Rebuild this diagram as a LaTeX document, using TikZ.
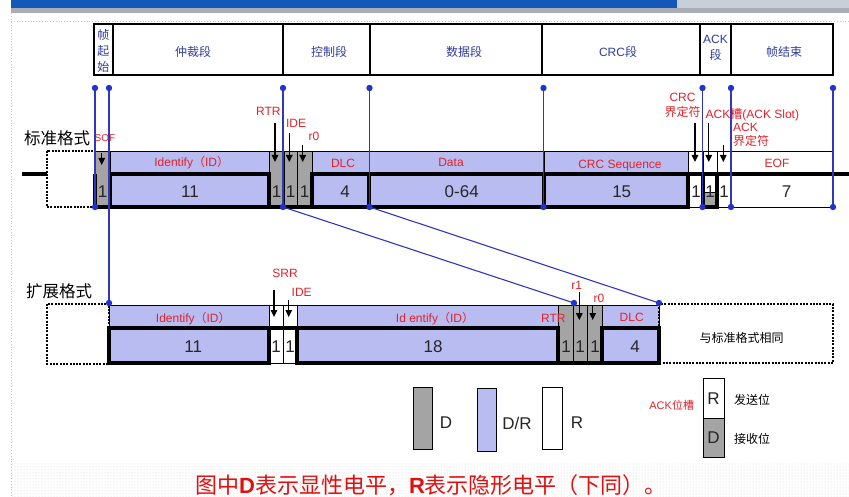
\documentclass[tikz,border=0pt]{standalone}
\usepackage{fontspec}
\setmainfont{Liberation Sans}
\newfontfamily\cjk{Noto Sans CJK SC}
\usetikzlibrary{arrows.meta,patterns}
\definecolor{lblue}{HTML}{B8BCF0}
\definecolor{dgray}{HTML}{A4A4A4}
\definecolor{lineblue}{HTML}{3038B8}
\definecolor{dotblue}{HTML}{2233CC}
\definecolor{hdrblue}{HTML}{2F3C9C}
\definecolor{lred}{HTML}{E4222A}
\definecolor{capred}{HTML}{E01010}
\definecolor{banner}{HTML}{1457B8}
\definecolor{photo}{HTML}{C9CFD8}
\definecolor{strip}{HTML}{A9AEB5}
\tikzset{
 cellline/.style={draw=black, line width=0.8pt},
 sig/.style={draw=black, line width=3.1pt},
 guide/.style={draw=lineblue, line width=1.1pt},
 redlbl/.style={text=lred, font=\fontsize{12}{14}\selectfont, inner sep=0pt},
 numlbl/.style={font=\fontsize{17}{18}\selectfont, inner sep=0pt, text=black!85},
 hdr/.style={text=hdrblue, font=\cjk\fontsize{12}{16}\selectfont, inner sep=0pt, align=center},
 bitarrow/.style={-{Triangle[length=7pt,width=6.5pt]}, line width=1.3pt},
 dashbox/.style={draw=black, line width=2pt, dash pattern=on 2pt off 1.3pt},
 rowtitle/.style={font=\cjk\fontsize{16.5}{18}\selectfont, inner sep=0pt},
 legtxt/.style={font=\fontsize{17}{18}\selectfont, inner sep=0pt, text=black!85},
 zhtxt/.style={font=\cjk\fontsize{12}{14}\selectfont, inner sep=0pt},
}
\newcommand{\lat}[1]{{\normalfont\fontsize{12}{16}\selectfont #1}}
\begin{document}
\begin{tikzpicture}[x=1pt,y=-1pt]
\useasboundingbox (0,0) rectangle (849,497);
\fill[white] (0,0) rectangle (849,497);
% slide chrome
\fill[banner] (11,0) rectangle (677,8.5);
\fill[photo] (677,0) rectangle (849,8.5);
\fill[strip] (11,8.5) rectangle (849,13.5);
\draw[gray!45, dotted, line width=0.8pt] (11,21) -- (849,21);
\draw[gray!45, dotted, line width=0.8pt] (11,13.5) -- (11,497);
\fill[pattern=dots, pattern color=gray!35] (12,462) rectangle (849,497);

% ---------- header ----------
\draw[line width=2pt] (94,24) rectangle (833,75);
\foreach \x in {112.6,282.5,369.5,541.5,700,731} \draw[line width=2pt] (\x,24) -- (\x,75);
\node[hdr] (hSOF) at (103.3,51) {帧\\起\\始};
\node[hdr] (hArb) at (193,52) {仲裁段};
\node[hdr] (hCtl) at (329,52) {控制段};
\node[hdr] (hData) at (464,52) {数据段};
\node[hdr] (hCRC) at (618,52) {\lat{CRC}段};
\node[hdr] (hACK) at (715.5,48) {\lat{ACK}\\段};
\node[hdr] (hEOF) at (784,52) {帧结束};

% ---------- standard format ----------
\node[rowtitle] (tStd) at (57,138) {标准格式};
\fill[dgray] (95,151) rectangle (110,207);
\fill[lblue] (110,151) rectangle (269,207);
\fill[dgray] (269,151) rectangle (312,207);
\fill[lblue] (312,151) rectangle (688,207);
\fill[dgray] (703,192) rectangle (717,207);
% thin cell lines
\draw[cellline] (95,151) -- (833,151);
\foreach \x in {95,110,269,284,297,312,369,544,688,703,717,731,833} \draw[cellline] (\x,151) -- (\x,174);
\foreach \x in {284,297,688,731} \draw[cellline] (\x,174) -- (\x,207);
\draw[cellline] (688,207) -- (703,207);
\draw[cellline] (717,207) -- (833,207);
\draw[cellline] (703,192) -- (717,192);
% dashed idle box
\draw[dashbox] (47,151) rectangle (95,207);
% signal (thick)
\draw[sig] (22,174) -- (47,174);
\draw[sig] (95,174) -- (95,207) -- (110,207);
\draw[sig] (110,174) rectangle (269,207);
\draw[sig] (269,207) -- (312,207);
\draw[sig] (312,174) rectangle (369,207);
\draw[sig] (369,174) rectangle (544,207);
\draw[sig] (544,174) rectangle (688,207);
\draw[sig] (688,174) -- (703,174);
\draw[sig] (703,174) rectangle (717,207);
\draw[sig] (717,174) -- (849,174);
% field labels
\node[redlbl] (lID) at (191.7,163) {Identify{\cjk （}ID{\cjk ）}};
\node[redlbl] (lDLC) at (343,163) {DLC};
\node[redlbl] (lData) at (451,162) {Data};
\node[redlbl] (lCRC) at (620,166) {CRC Sequence};
\node[redlbl] (lEOF) at (777,163) {EOF};
% numbers
\node[numlbl] (n1) at (102.5,191.5) {1};
\node[numlbl] (n2) at (190,191.5) {11};
\node[numlbl] (n3) at (276.5,191.5) {1};
\node[numlbl] (n4) at (290.5,191.5) {1};
\node[numlbl] (n5) at (304.5,191.5) {1};
\node[numlbl] (n6) at (345,191.5) {4};
\node[numlbl] (n7) at (461.7,191.5) {0-64};
\node[numlbl] (n8) at (621.7,191.5) {15};
\node[numlbl] (n9) at (696,191.5) {1};
\node[numlbl] (n10) at (710,191.5) {1};
\node[numlbl] (n11) at (724,191.5) {1};
\node[numlbl] (n12) at (786.7,191.5) {7};
% bit arrows and their labels
\node[redlbl, font=\fontsize{10}{12}\selectfont] (aSOF) at (105,138) {SOF};
\node[redlbl] (aRTR) at (268.3,111.7) {RTR};
\node[redlbl] (aIDE) at (296,123.3) {IDE};
\node[redlbl] (ar0) at (314,136.7) {r0};
\node[redlbl, align=center, font=\cjk\fontsize{12}{15}\selectfont] (aCRCd) at (682.5,105.5) {\lat{CRC}\\界定符};
\node[redlbl, anchor=west] (aACK) at (705.5,115) {ACK{\cjk 槽}(ACK Slot)};
\node[redlbl, align=left, anchor=west, font=\cjk\fontsize{12}{13.5}\selectfont] (aACKd) at (733,135) {\lat{ACK}\\界定符};
\coordinate (s1) at (101.7,153); \coordinate (e1) at (101.7,165);
\coordinate (s2) at (275,123);   \coordinate (e2) at (275,162);
\coordinate (s3) at (289.3,133); \coordinate (e3) at (289.3,162);
\coordinate (s4) at (302.7,145); \coordinate (e4) at (302.7,162);
\coordinate (s5) at (695,123);   \coordinate (e5) at (695,162);
\coordinate (s6) at (708.7,123); \coordinate (e6) at (708.7,162);
\coordinate (s7) at (723.3,145); \coordinate (e7) at (723.3,162);
\foreach \i in {1,...,7} \draw[bitarrow] (s\i) -- (e\i);

% ---------- extended format ----------
\node[rowtitle] (tExt) at (59,291.7) {扩展格式};
\fill[lblue] (109,305) rectangle (269,363);
\fill[lblue] (297,305) rectangle (558,363);
\fill[dgray] (558,305) rectangle (602,363);
\fill[lblue] (602,305) rectangle (659,363);
\draw[cellline] (109,305) -- (659,305);
\foreach \x in {109,269,283,297,558,573,587,602,659} \draw[cellline] (\x,305) -- (\x,328);
\foreach \x in {283,573,587} \draw[cellline] (\x,328) -- (\x,363);
\draw[cellline] (269,363) -- (297,363);
\draw[dashbox] (47,304) rectangle (109,364);
\draw[dashbox] (659,304) rectangle (833,363);
\draw[sig] (109,328) rectangle (269,363);
\draw[sig] (269,328) -- (297,328);
\draw[sig] (297,328) rectangle (558,363);
\draw[sig] (558,363) -- (602,363);
\draw[sig] (602,328) rectangle (659,363);
\node[redlbl] (xID) at (193.3,318.3) {Identify{\cjk （}ID{\cjk ）}};
\node[redlbl] (xID2) at (435,318.3) {Id entify{\cjk （}ID{\cjk ）}};
\node[redlbl] (xRTR) at (553.3,318.3) {RTR};
\node[redlbl] (xDLC) at (631.7,317.3) {DLC};
\node[numlbl] (m1) at (193.3,346.7) {11};
\node[numlbl] (m2) at (276,346.7) {1};
\node[numlbl] (m3) at (290,346.7) {1};
\node[numlbl] (m4) at (433,346.7) {18};
\node[numlbl] (m5) at (566,346.7) {1};
\node[numlbl] (m6) at (580,346.7) {1};
\node[numlbl] (m7) at (595,346.7) {1};
\node[numlbl] (m8) at (635,346.7) {4};
\node[zhtxt] (same) at (741.7,338) {与标准格式相同};
\node[redlbl] (bSRR) at (285,273.3) {SRR};
\node[redlbl] (bIDE) at (301.7,292.7) {IDE};
\node[redlbl] (br1) at (576.7,285) {r1};
\node[redlbl] (br0) at (599,298.3) {r0};
\coordinate (p1) at (274,290);    \coordinate (q1) at (274,317);
\coordinate (p2) at (288.7,300);  \coordinate (q2) at (288.7,317);
\coordinate (p3) at (579.3,292);  \coordinate (q3) at (579.3,320);
\coordinate (p4) at (592.7,305);  \coordinate (q4) at (592.7,320);
\foreach \i in {1,...,4} \draw[bitarrow] (p\i) -- (q\i);

% ---------- guide lines and dots ----------
\coordinate (g1) at (95,88);   \coordinate (h1) at (95,207);
\coordinate (g2) at (109,88);  \coordinate (h2) at (109,303);
\coordinate (g3) at (283,88);  \coordinate (h3) at (283,207);
\coordinate (g4) at (369.5,88);\coordinate (h4) at (369.5,207);
\coordinate (g5) at (543.5,88);\coordinate (h5) at (543.5,207);
\coordinate (g6) at (702.5,88);\coordinate (h6) at (702.5,207);
\coordinate (g7) at (731,88);  \coordinate (h7) at (731,207);
\coordinate (g8) at (833,88);  \coordinate (h8) at (833,207);
\coordinate (x1) at (574,303);
\coordinate (x2) at (659,303);
\foreach \i in {1,...,8} {
  \draw[guide] (g\i) -- (h\i);
  \fill[dotblue] (g\i) circle (3.2pt);
}
\draw[guide] (h3) -- (x1);
\draw[guide] (h4) -- (x2);
\foreach \c in {h1,h2,h3,h4,h5,h6,h7,h8,x1,x2} \fill[dotblue] (\c) circle (3.2pt);

% ---------- legend ----------
\draw[cellline, fill=dgray] (413,387) rectangle (432,449);
\node[legtxt] (kD) at (446,423) {D};
\draw[cellline, fill=lblue] (477,388) rectangle (496,451);
\node[legtxt] (kDR) at (517,423) {D/R};
\draw[cellline, fill=white] (542,387) rectangle (562,449);
\node[legtxt] (kR) at (577,423) {R};
\node[redlbl, font=\fontsize{11}{13}\selectfont] (kACK) at (671.7,405) {ACK{\cjk 位槽}};
\draw[cellline, fill=white] (703,378) rectangle (724,418);
\draw[cellline, fill=dgray] (703,418) rectangle (724,457);
\node[legtxt] (kR2) at (713.5,399) {R};
\node[legtxt] (kD2) at (713.5,438) {D};
\node[zhtxt] (kSend) at (752,400) {发送位};
\node[zhtxt] (kRecv) at (752,439.3) {接收位};

% ---------- caption ----------
\node[inner sep=0pt, text=capred, font=\cjk\fontsize{22}{24}\selectfont] (cap) at (431,485)
  {图中{\normalfont\bfseries\fontsize{22}{24}\selectfont D}表示显性电平，{\normalfont\bfseries\fontsize{22}{24}\selectfont R}表示隐形电平（下同）。};
\end{tikzpicture}
\end{document}
